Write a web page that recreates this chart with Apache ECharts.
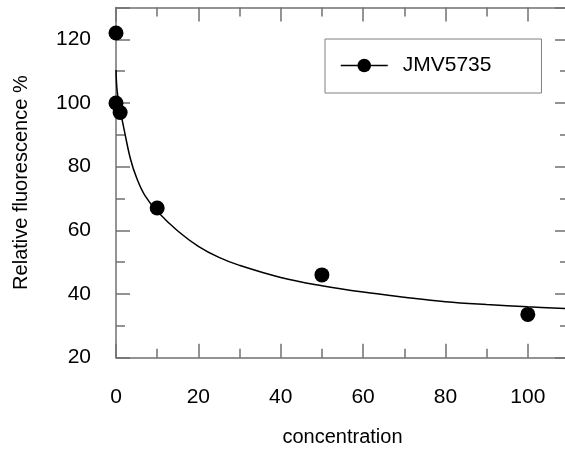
<!DOCTYPE html>
<html>
<head>
<meta charset="utf-8">
<script src="https://cdn.jsdelivr.net/npm/echarts@6/dist/echarts.min.js"></script>
<style>html,body{margin:0;padding:0;background:#fff;overflow:hidden}#c{width:565px;height:453px}</style>
</head>
<body>
<div id="c"></div>
<script>
// measured points
var pointX = [0, 0, 1, 10, 50, 100];
var pointY = [122, 100, 97, 67, 46, 33.6];
// fitted curve
var curveX = [0, 0.3, 1, 2, 3.5, 5, 7, 10, 15, 20, 25, 30, 40, 50, 60, 70, 80, 90, 100, 110];
var curveY = [110.4, 103.5, 98.0, 91.5, 82.5, 76.5, 71.0, 66.0, 59.8, 55.0, 51.5, 49.0, 45.2, 42.6, 40.6, 39.0, 37.6, 36.7, 36.0, 35.4];
var seriesName = 'JMV5735';
var xName = 'concentration';
var yName = 'Relative fluorescence %';

var FONT = 'Liberation Sans, Arial, sans-serif';
var AX = '#707070';
function pairs(xs, ys) { return xs.map(function (x, i) { return [x, ys[i]]; }); }

function majorAxis(extra) {
  return Object.assign({
    type: 'value',
    axisLine: { show: true, onZero: false, lineStyle: { color: AX, width: 1.5 } },
    axisTick: { show: true, inside: true, length: 14, lineStyle: { color: AX, width: 1.5 } },
    splitLine: { show: false }
  }, extra);
}
function minorAxis(extra) {
  return Object.assign({
    type: 'value', interval: 10,
    axisLine: { show: false, onZero: false },
    axisTick: { show: true, inside: true, length: 9, lineStyle: { color: AX, width: 1.5 } },
    axisLabel: { show: false },
    splitLine: { show: false }
  }, extra);
}

var chart = echarts.init(document.getElementById('c'), null, { renderer: 'canvas' });
chart.setOption({
  animation: false,
  textStyle: { fontFamily: FONT },
  grid: { left: 116, right: -4, top: 7.5, bottom: 95.3, containLabel: false, outerBoundsMode: 'none' },
  legend: {
    data: [seriesName],
    left: 325, top: 39,
    orient: 'horizontal',
    padding: [16, 50, 17, 15],
    borderColor: '#808080', borderWidth: 1,
    itemWidth: 47, itemHeight: 17,
    lineStyle: { color: '#000', width: 1.5, opacity: 1 },
    itemStyle: { color: '#000' },
    textStyle: { fontFamily: FONT, fontSize: 21, color: '#000', padding: [0, 0, 0, 10] }
  },
  xAxis: [
    majorAxis({
      position: 'bottom', min: 0, max: 110, interval: 20,
      name: xName, nameLocation: 'middle', nameGap: 70,
      nameTextStyle: { fontFamily: FONT, fontSize: 20, color: '#000' },
      axisLabel: { fontFamily: FONT, fontSize: 21, color: '#000', margin: 29,
        formatter: function (v) { return v > 100 ? '' : String(v); } }
    }),
    majorAxis({ position: 'top', min: 0, max: 110, interval: 20, axisLabel: { show: false } }),
    minorAxis({ position: 'bottom', min: 0, max: 110 }),
    minorAxis({ position: 'top', min: 0, max: 110 })
  ],
  yAxis: [
    majorAxis({
      position: 'left', min: 20, max: 130, interval: 20,
      name: yName, nameLocation: 'middle', nameGap: 85,
      nameTextStyle: { fontFamily: FONT, fontSize: 20, color: '#000' },
      axisLabel: { fontFamily: FONT, fontSize: 21, color: '#000', margin: 25,
        formatter: function (v) { return v > 120 ? '' : String(v); } }
    }),
    majorAxis({ position: 'right', min: 20, max: 130, interval: 20, axisLabel: { show: false } }),
    minorAxis({ position: 'left', min: 20, max: 130 }),
    minorAxis({ position: 'right', min: 20, max: 130 })
  ],
  series: [
    {
      name: 'fit', type: 'line', xAxisIndex: 0, yAxisIndex: 0,
      data: pairs(curveX, curveY), smooth: 0.4, showSymbol: false, symbol: 'none',
      lineStyle: { color: '#000', width: 1.5 }, clip: true, z: 2, silent: true
    },
    {
      name: seriesName, type: 'line', xAxisIndex: 0, yAxisIndex: 0,
      data: pairs(pointX, pointY), symbol: 'circle', symbolSize: 15, showSymbol: true,
      itemStyle: { color: '#000' }, lineStyle: { opacity: 0, width: 0 }, z: 3, clip: false
    }
  ]
});
</script>
</body>
</html>
